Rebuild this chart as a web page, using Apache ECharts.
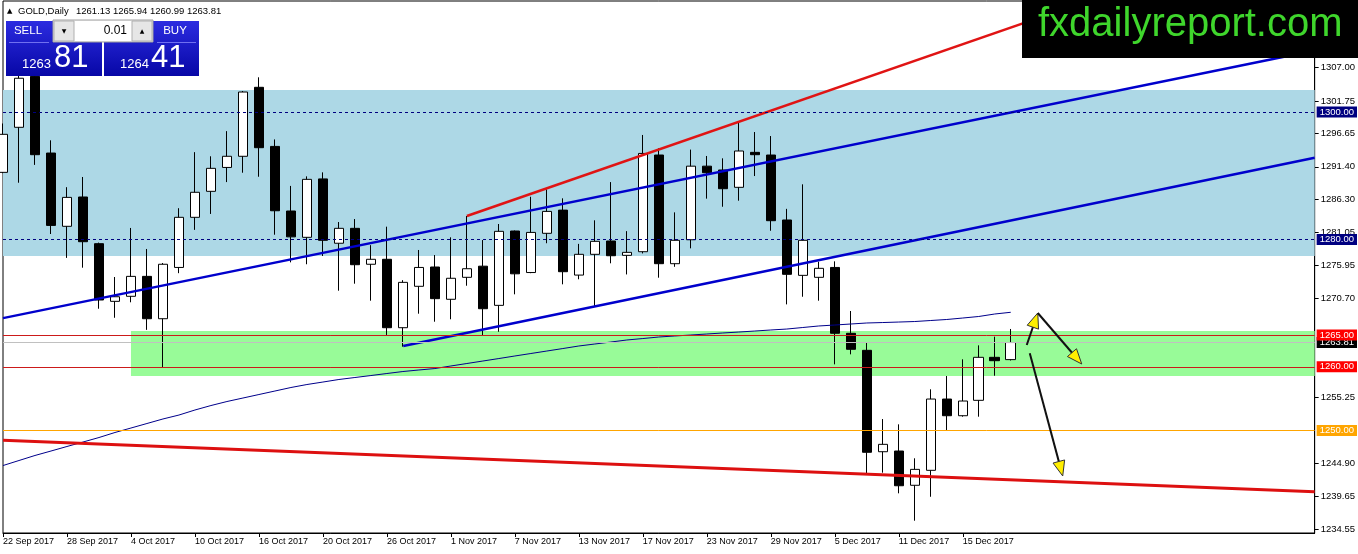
<!DOCTYPE html>
<html><head><meta charset="utf-8">
<script src="https://cdn.jsdelivr.net/npm/echarts@6/dist/echarts.min.js"></script>
<style>html,body{margin:0;padding:0;background:#fff;overflow:hidden}#c{width:1358px;height:554px}</style>
</head><body><div id="c"></div>
<script>
// ---- data ----
const dates = ['22 Sep 2017','25 Sep 2017','26 Sep 2017','27 Sep 2017','28 Sep 2017','29 Sep 2017','2 Oct 2017','3 Oct 2017','4 Oct 2017','5 Oct 2017','6 Oct 2017','9 Oct 2017','10 Oct 2017','11 Oct 2017','12 Oct 2017','13 Oct 2017','16 Oct 2017','17 Oct 2017','18 Oct 2017','19 Oct 2017','20 Oct 2017','23 Oct 2017','24 Oct 2017','25 Oct 2017','26 Oct 2017','27 Oct 2017','30 Oct 2017','31 Oct 2017','1 Nov 2017','2 Nov 2017','3 Nov 2017','6 Nov 2017','7 Nov 2017','8 Nov 2017','9 Nov 2017','10 Nov 2017','13 Nov 2017','14 Nov 2017','15 Nov 2017','16 Nov 2017','17 Nov 2017','20 Nov 2017','21 Nov 2017','22 Nov 2017','23 Nov 2017','24 Nov 2017','27 Nov 2017','28 Nov 2017','29 Nov 2017','30 Nov 2017','1 Dec 2017','4 Dec 2017','5 Dec 2017','6 Dec 2017','7 Dec 2017','8 Dec 2017','11 Dec 2017','12 Dec 2017','13 Dec 2017','14 Dec 2017','15 Dec 2017','18 Dec 2017','19 Dec 2017','20 Dec 2017'];
const opens  = [1290.53,1297.60,1305.60,1293.56,1282.06,1286.66,1279.33,1270.28,1271.07,1274.20,1267.55,1275.60,1283.47,1287.55,1291.30,1293.05,1303.88,1294.60,1284.46,1280.33,1289.50,1279.40,1281.74,1276.10,1276.88,1266.14,1272.64,1275.67,1270.60,1274.05,1275.80,1269.65,1281.32,1274.80,1280.96,1284.60,1274.40,1277.66,1279.75,1277.50,1278.07,1293.25,1276.19,1279.95,1291.50,1290.90,1288.18,1293.67,1293.25,1283.05,1274.36,1274.05,1275.60,1265.26,1262.59,1246.67,1246.78,1241.40,1243.75,1254.94,1252.32,1254.74,1261.49,1261.13];
const closes = [1296.50,1305.30,1293.30,1282.20,1286.60,1279.64,1270.49,1271.00,1274.20,1267.55,1276.10,1283.47,1287.40,1291.16,1293.05,1303.14,1294.40,1284.50,1280.40,1289.43,1279.86,1281.74,1276.03,1276.88,1266.14,1273.26,1275.60,1270.70,1273.90,1275.40,1269.12,1281.27,1274.60,1281.10,1284.40,1274.93,1277.66,1279.70,1277.44,1277.97,1293.50,1276.19,1279.86,1291.50,1290.47,1287.96,1293.88,1293.30,1282.94,1274.52,1279.86,1275.46,1265.26,1262.75,1246.58,1247.83,1241.33,1243.90,1254.94,1252.32,1254.63,1261.49,1260.96,1263.81];
const lows   = [1290.40,1288.90,1291.70,1280.85,1277.10,1275.56,1269.12,1267.70,1270.13,1265.80,1259.97,1274.70,1281.50,1284.00,1289.00,1290.47,1289.84,1280.74,1276.40,1276.10,1277.40,1271.95,1273.05,1270.38,1265.00,1263.16,1268.34,1267.08,1267.46,1272.73,1264.84,1265.50,1271.38,1274.70,1279.40,1272.95,1273.74,1269.50,1276.25,1274.50,1277.80,1273.99,1275.70,1278.60,1286.40,1285.13,1286.08,1289.95,1281.36,1269.80,1271.00,1270.38,1260.39,1261.96,1243.28,1243.38,1240.14,1235.84,1239.60,1250.08,1252.17,1252.17,1258.60,1260.99];
const highs  = [1298.20,1307.50,1306.50,1295.56,1288.20,1289.80,1279.50,1274.10,1281.80,1278.50,1276.30,1284.90,1293.70,1293.05,1297.00,1303.30,1305.45,1295.70,1288.40,1289.90,1290.53,1282.73,1283.20,1279.10,1282.00,1273.60,1278.34,1277.55,1280.33,1283.67,1279.90,1282.42,1281.40,1286.70,1287.86,1286.45,1279.30,1283.00,1289.00,1281.30,1296.40,1294.30,1284.25,1294.10,1293.10,1292.73,1298.48,1296.86,1296.23,1284.80,1288.65,1276.50,1276.56,1268.76,1263.85,1251.80,1250.97,1245.64,1256.47,1258.56,1261.18,1263.37,1264.73,1265.94];
const maValues = [1244.50,1245.29,1246.08,1246.78,1247.49,1248.19,1248.90,1249.69,1250.39,1251.10,1251.81,1252.43,1253.22,1253.92,1254.55,1255.10,1255.65,1256.20,1256.75,1257.22,1257.61,1258.01,1258.32,1258.63,1258.95,1259.26,1259.50,1259.73,1260.13,1260.52,1260.91,1261.30,1261.70,1262.09,1262.48,1262.87,1263.27,1263.58,1263.89,1264.21,1264.44,1264.68,1264.84,1264.99,1265.15,1265.31,1265.46,1265.62,1265.78,1265.93,1266.17,1266.41,1266.56,1266.72,1266.88,1266.95,1267.03,1267.11,1267.27,1267.43,1267.66,1267.90,1268.29,1268.56];
const dateTickIdx = [0,4,8,12,16,20,24,28,32,36,40,44,48,52,56,60];
const priceTicks = [1234.55,1239.65,1244.90,1255.25,1270.70,1275.95,1281.05,1286.30,1291.40,1296.65,1301.75,1307.00];
const blueZone = [1277.40, 1303.45];
const greenZone = [1258.56, 1265.62];
const greenZoneStart = 8;
const upperChannel = [[0,1267.64],[82,1309.67]];
const lowerChannel = [[25.02,1263.27],[82,1292.83]];
const redTopLine = [[29,1283.67],[68,1317.6]];
const redBottomLine = [[0,1248.49],[82,1240.38]];
const arrows = [[64.0,1263.42,64.69,1268.45],[64.69,1268.45,67.44,1260.44],[64.19,1262.12,66.25,1242.86]];
const bidPrice = 1263.81, askPrice = 1264.41;

const FONT = '"Liberation Sans", Arial, sans-serif';
const chart = echarts.init(document.getElementById('c'));
const candles = opens.map((o,i)=>[i,o,closes[i],lows[i],highs[i]]);
const last = opens.length-1;

function lvl(v, color, type, bg){
  return {yAxis:v, lineStyle:{color:color, type:type, width:1},
    label:{show:true, position:'end', distance:2, color:'#fff', backgroundColor:bg,
      fontSize:9.5, fontFamily:FONT, padding:[1,3,0,3], formatter:()=>v.toFixed(2)}};
}

const option = {
  animation:false,
  backgroundColor:'#fff',
  grid:{left:3, top:1, right:43, bottom:21, show:true, borderColor:'#000', borderWidth:1, backgroundColor:'#fff'},
  xAxis:{type:'value', min:0, max:82, splitLine:{show:false},
    axisLine:{onZero:false, lineStyle:{color:'#000'}},
    axisTick:{customValues:dateTickIdx, length:4, lineStyle:{color:'#000'}},
    axisLabel:{customValues:dateTickIdx, formatter:v=>dates[v]||'', align:'left', margin:4,
      color:'#000', fontSize:9, fontFamily:FONT}},
  yAxis:{type:'value', position:'right', min:1233.91, max:1317.43, scale:true, splitLine:{show:false},
    axisLine:{show:true, onZero:false, lineStyle:{color:'#000'}},
    axisTick:{show:true, customValues:priceTicks, length:4, lineStyle:{color:'#000'}},
    axisLabel:{customValues:priceTicks, formatter:v=>Number(v).toFixed(2), margin:6,
      color:'#000', fontSize:9.5, fontFamily:FONT}},
  series:[
    {type:'candlestick', z:2, data:candles, barWidth:10, clip:true,
      itemStyle:{color:'#fff', color0:'#000', borderColor:'#000', borderColor0:'#000', borderWidth:1},
      markArea:{silent:true, itemStyle:{opacity:1}, data:[
        [{xAxis:0, yAxis:blueZone[1], itemStyle:{color:'#add8e6'}},{xAxis:82, yAxis:blueZone[0]}],
        [{xAxis:greenZoneStart, yAxis:greenZone[1], itemStyle:{color:'#98fb98'}},{xAxis:82, yAxis:greenZone[0]}]
      ]},
      markLine:{silent:true, symbol:['none','none'], data:[
        lvl(1300,'#000080',[3,3],'#000080'),
        lvl(1280,'#000080',[3,3],'#000080'),
        lvl(1250,'#ffa500','solid','#ffa500'),
        lvl(1260,'#cc1a1a','solid','#ff0000'),
        lvl(bidPrice,'#c0c0c0','solid','#000'),
        lvl(1265,'#cc1a1a','solid','#ff0000')
      ]}},
    {type:'line', z:4, data:maValues.map((v,i)=>[i,v]), showSymbol:false, lineStyle:{color:'#00008b', width:1}},
    {type:'line', z:4, data:upperChannel, showSymbol:false, lineStyle:{color:'#0000cc', width:2.5}},
    {type:'line', z:4, data:lowerChannel, showSymbol:false, lineStyle:{color:'#0000cc', width:2.5}},
    {type:'line', z:4, data:redTopLine, showSymbol:false, lineStyle:{color:'#e01414', width:2.5}},
    {type:'line', z:4, data:redBottomLine, showSymbol:false, lineStyle:{color:'#dd1010', width:3}},
    {type:'custom', z:6, data:arrows, encode:{x:[0,2], y:[1,3]},
      renderItem:function(params, api){
        const p1 = api.coord([api.value(0), api.value(1)]);
        const p2 = api.coord([api.value(2), api.value(3)]);
        const dx=p2[0]-p1[0], dy=p2[1]-p1[1], L=Math.hypot(dx,dy), ux=dx/L, uy=dy/L;
        const hl=15, hw=6, bx=p2[0]-ux*hl, by=p2[1]-uy*hl;
        return {type:'group', children:[
          {type:'line', shape:{x1:p1[0],y1:p1[1],x2:p2[0]-ux*4,y2:p2[1]-uy*4}, style:{stroke:'#111',lineWidth:2}},
          {type:'polygon', shape:{points:[[p2[0],p2[1]],[bx-uy*hw,by+ux*hw],[bx+uy*hw,by-ux*hw]]},
            style:{fill:'#ffee00',stroke:'#333',lineWidth:1}}
        ]};
      }}
  ],
  graphic:[
    // header
    {type:'text', z:100, x:7, y:11, style:{text:'▲', fill:'#000', font:'7px "DejaVu Sans"', verticalAlign:'middle', textVerticalAlign:'middle'}},
    {type:'text', z:100, x:18, y:11, style:{text:'GOLD,Daily', fill:'#000', font:'9.5px '+FONT, verticalAlign:'middle', textVerticalAlign:'middle'}},
    {type:'text', z:100, x:76, y:11, style:{text:[opens[last],highs[last],lows[last],closes[last]].map(v=>v.toFixed(2)).join(' '), fill:'#000', font:'9.5px '+FONT, verticalAlign:'middle', textVerticalAlign:'middle'}},
    // trade panel
    {type:'rect', z:100, shape:{x:6,y:21,width:96,height:55}, style:{fill:new echarts.graphic.LinearGradient(0,0,0,1,[{offset:0,color:'#2c2ce0'},{offset:1,color:'#0707a6'}])}},
    {type:'rect', z:100, shape:{x:104,y:21,width:95,height:55}, style:{fill:new echarts.graphic.LinearGradient(0,0,0,1,[{offset:0,color:'#2c2ce0'},{offset:1,color:'#0707a6'}])}},
    {type:'rect', z:101, shape:{x:53,y:20,width:100,height:22}, style:{fill:'#f0f0f0', stroke:'#a0a0a0', lineWidth:1}},
    {type:'rect', z:102, shape:{x:74,y:21,width:58,height:20}, style:{fill:'#fff'}},
    {type:'rect', z:102, shape:{x:54,y:21,width:20,height:20}, style:{fill:'#e6e6e6', stroke:'#b0b0b0'}},
    {type:'rect', z:102, shape:{x:132,y:21,width:20,height:20}, style:{fill:'#e6e6e6', stroke:'#b0b0b0'}},
    {type:'text', z:103, x:64, y:31, style:{text:'▼', fill:'#000', font:'6px "DejaVu Sans"', align:'center', textAlign:'center', verticalAlign:'middle', textVerticalAlign:'middle'}},
    {type:'text', z:103, x:142, y:31, style:{text:'▲', fill:'#000', font:'6px "DejaVu Sans"', align:'center', textAlign:'center', verticalAlign:'middle', textVerticalAlign:'middle'}},
    {type:'text', z:103, x:127, y:31, style:{text:'0.01', fill:'#000', font:'12px '+FONT, align:'right', textAlign:'right', verticalAlign:'middle', textVerticalAlign:'middle'}},
    {type:'text', z:103, x:28, y:31, style:{text:'SELL', fill:'#fff', font:'11.5px '+FONT, align:'center', textAlign:'center', verticalAlign:'middle', textVerticalAlign:'middle'}},
    {type:'text', z:103, x:175, y:31, style:{text:'BUY', fill:'#fff', font:'11.5px '+FONT, align:'center', textAlign:'center', verticalAlign:'middle', textVerticalAlign:'middle'}},
    {type:'line', z:103, shape:{x1:9,y1:42.5,x2:49,y2:42.5}, style:{stroke:'#7070f0', lineWidth:1}},
    {type:'line', z:103, shape:{x1:157,y1:42.5,x2:196,y2:42.5}, style:{stroke:'#7070f0', lineWidth:1}},
    {type:'text', z:103, x:22, y:71, style:{text:bidPrice.toFixed(2).slice(0,4), fill:'#fff', font:'13px '+FONT, verticalAlign:'bottom', textVerticalAlign:'bottom'}},
    {type:'text', z:103, x:54, y:74, style:{text:bidPrice.toFixed(2).slice(5), fill:'#fff', font:'31px '+FONT, verticalAlign:'bottom', textVerticalAlign:'bottom'}},
    {type:'text', z:103, x:120, y:71, style:{text:askPrice.toFixed(2).slice(0,4), fill:'#fff', font:'13px '+FONT, verticalAlign:'bottom', textVerticalAlign:'bottom'}},
    {type:'text', z:103, x:151, y:74, style:{text:askPrice.toFixed(2).slice(5), fill:'#fff', font:'31px '+FONT, verticalAlign:'bottom', textVerticalAlign:'bottom'}},
    // logo
    {type:'rect', z:110, shape:{x:1022,y:0,width:336,height:58}, style:{fill:'#000'}},
    {type:'text', z:111, x:1038, y:25, style:{text:'fxdailyreport.com', fill:'#3fd62c', font:'40px '+FONT, verticalAlign:'middle', textVerticalAlign:'middle'}}
  ]
};
chart.setOption(option);
</script>
</body></html>
